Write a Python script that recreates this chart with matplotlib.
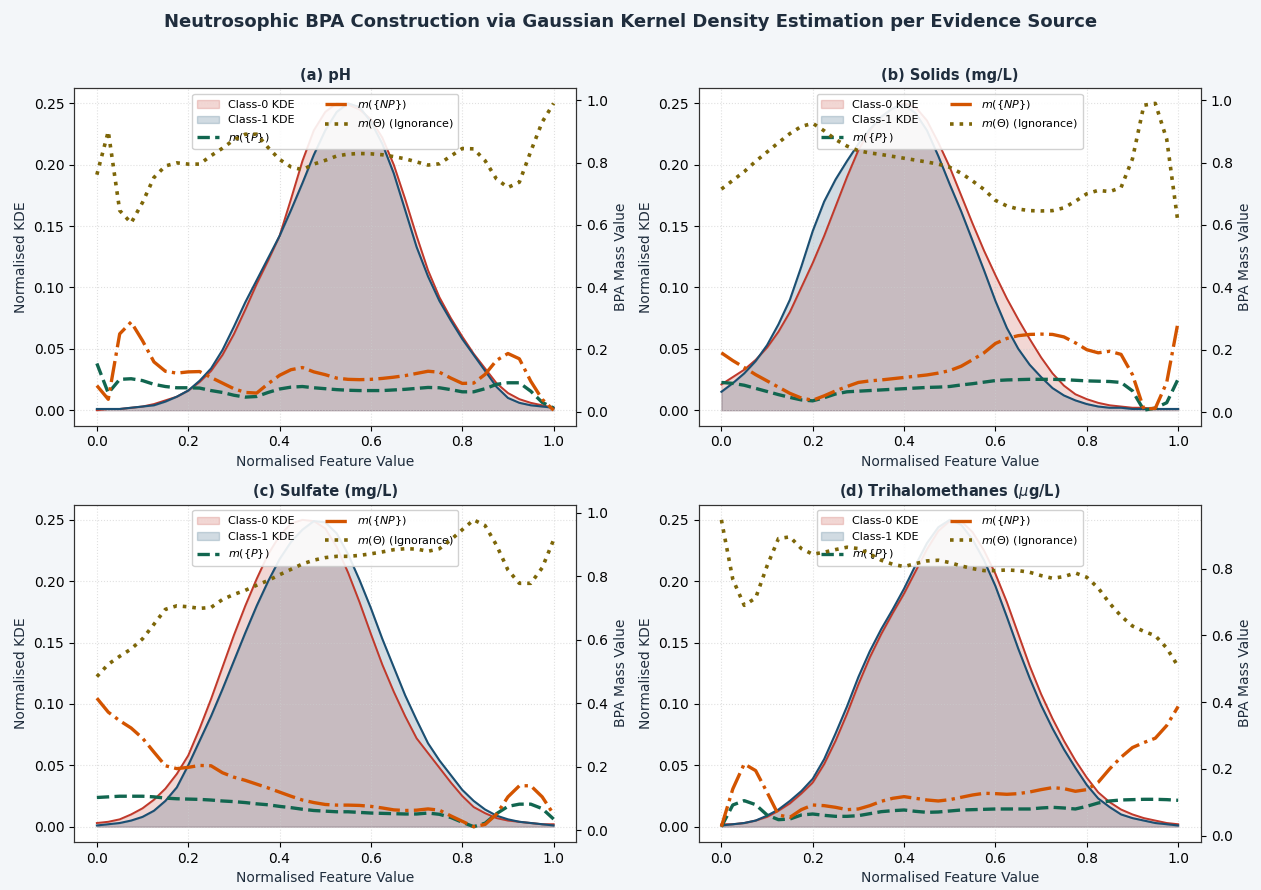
import numpy as np
import matplotlib
matplotlib.use("Agg")
import matplotlib.pyplot as plt

# normalised feature grid (41 samples, 0..1)
feature_x = np.linspace(0, 1, 41)

# ---- (a) pH ----
ph_kde0 = [0.000, 0.001, 0.001, 0.002, 0.003, 0.005, 0.008, 0.011, 0.016, 0.023,
           0.032, 0.045, 0.062, 0.082, 0.103, 0.122, 0.142, 0.172, 0.203, 0.228,
           0.243, 0.250, 0.249, 0.245, 0.237, 0.222, 0.200, 0.172, 0.142, 0.114,
           0.092, 0.075, 0.060, 0.046, 0.034, 0.022, 0.014, 0.009, 0.006, 0.004, 0.002]
ph_kde1 = [0.001, 0.001, 0.001, 0.002, 0.003, 0.004, 0.007, 0.011, 0.016, 0.024,
           0.034, 0.049, 0.068, 0.088, 0.106, 0.124, 0.142, 0.163, 0.185, 0.208,
           0.228, 0.243, 0.250, 0.247, 0.235, 0.217, 0.193, 0.163, 0.133, 0.109,
           0.089, 0.073, 0.058, 0.045, 0.032, 0.019, 0.010, 0.006, 0.004, 0.003, 0.002]
ph_mp = [0.155, 0.060, 0.104, 0.106, 0.100, 0.088, 0.081, 0.077, 0.077, 0.076,
         0.068, 0.062, 0.053, 0.047, 0.049, 0.062, 0.073, 0.079, 0.081, 0.077,
         0.074, 0.071, 0.069, 0.068, 0.068, 0.068, 0.070, 0.072, 0.075, 0.078,
         0.077, 0.071, 0.064, 0.064, 0.074, 0.088, 0.093, 0.093, 0.066, 0.030, 0.012]
ph_mnp = [0.084, 0.040, 0.250, 0.288, 0.228, 0.160, 0.130, 0.124, 0.128, 0.129,
          0.110, 0.092, 0.074, 0.062, 0.060, 0.090, 0.117, 0.135, 0.142, 0.128,
          0.119, 0.108, 0.104, 0.103, 0.104, 0.107, 0.111, 0.116, 0.123, 0.130,
          0.127, 0.108, 0.091, 0.092, 0.120, 0.165, 0.187, 0.170, 0.098, 0.040, 0.005]
ph_theta = [0.761, 0.900, 0.646, 0.606, 0.672, 0.752, 0.789, 0.799, 0.795, 0.795,
            0.822, 0.846, 0.873, 0.891, 0.891, 0.848, 0.810, 0.786, 0.777, 0.795,
            0.807, 0.821, 0.827, 0.829, 0.828, 0.825, 0.819, 0.812, 0.802, 0.792,
            0.796, 0.821, 0.845, 0.844, 0.806, 0.747, 0.720, 0.737, 0.836, 0.930, 0.990]

# ---- (b) Solids ----
sol_kde0 = [0.021, 0.027, 0.033, 0.041, 0.051, 0.064, 0.080, 0.100, 0.120, 0.142,
            0.166, 0.190, 0.212, 0.228, 0.239, 0.246, 0.250, 0.247, 0.236, 0.218,
            0.198, 0.175, 0.152, 0.130, 0.110, 0.091, 0.074, 0.058, 0.043, 0.030,
            0.020, 0.013, 0.009, 0.006, 0.004, 0.003, 0.002, 0.002, 0.001, 0.001, 0.001]
sol_kde1 = [0.015, 0.022, 0.030, 0.040, 0.053, 0.070, 0.090, 0.117, 0.146, 0.170,
            0.188, 0.203, 0.217, 0.229, 0.239, 0.246, 0.249, 0.242, 0.228, 0.207,
            0.184, 0.162, 0.138, 0.114, 0.089, 0.067, 0.050, 0.037, 0.027, 0.018,
            0.012, 0.008, 0.005, 0.003, 0.002, 0.002, 0.001, 0.001, 0.001, 0.001, 0.001]
sol_mp = [0.095, 0.092, 0.086, 0.076, 0.066, 0.056, 0.047, 0.039, 0.036, 0.046,
          0.058, 0.065, 0.067, 0.069, 0.071, 0.073, 0.075, 0.077, 0.079, 0.080,
          0.082, 0.087, 0.091, 0.096, 0.101, 0.103, 0.104, 0.105, 0.105, 0.105,
          0.104, 0.102, 0.100, 0.099, 0.098, 0.095, 0.068, 0.006, 0.013, 0.030, 0.106]
sol_mnp = [0.190, 0.165, 0.143, 0.120, 0.100, 0.080, 0.060, 0.045, 0.038, 0.052,
           0.068, 0.082, 0.095, 0.100, 0.103, 0.107, 0.111, 0.115, 0.119, 0.125,
           0.133, 0.147, 0.168, 0.190, 0.220, 0.236, 0.245, 0.249, 0.250, 0.249,
           0.241, 0.222, 0.200, 0.190, 0.195, 0.185, 0.120, 0.010, 0.012, 0.095, 0.290]
sol_theta = [0.715, 0.743, 0.771, 0.804, 0.834, 0.864, 0.893, 0.916, 0.926, 0.902,
             0.874, 0.853, 0.838, 0.831, 0.826, 0.820, 0.814, 0.808, 0.802, 0.795,
             0.785, 0.766, 0.741, 0.714, 0.679, 0.661, 0.651, 0.646, 0.645, 0.646,
             0.655, 0.676, 0.700, 0.711, 0.707, 0.720, 0.812, 0.984, 0.990, 0.875, 0.604]

# ---- (c) Sulfate ----
sul_kde0 = [0.003, 0.004, 0.006, 0.010, 0.015, 0.022, 0.031, 0.043, 0.058, 0.080,
            0.104, 0.130, 0.156, 0.180, 0.202, 0.222, 0.237, 0.247, 0.250, 0.249,
            0.243, 0.228, 0.207, 0.183, 0.157, 0.132, 0.110, 0.090, 0.072, 0.060,
            0.048, 0.036, 0.025, 0.016, 0.011, 0.007, 0.005, 0.004, 0.003, 0.002, 0.002]
sul_kde1 = [0.001, 0.002, 0.003, 0.005, 0.008, 0.013, 0.021, 0.032, 0.050, 0.070,
            0.090, 0.112, 0.135, 0.158, 0.180, 0.200, 0.218, 0.232, 0.242, 0.249,
            0.248, 0.239, 0.222, 0.201, 0.178, 0.153, 0.130, 0.107, 0.087, 0.068,
            0.054, 0.042, 0.030, 0.021, 0.014, 0.009, 0.006, 0.004, 0.003, 0.002, 0.001]
sul_mp = [0.103, 0.105, 0.107, 0.107, 0.107, 0.105, 0.101, 0.099, 0.098, 0.097,
          0.095, 0.092, 0.090, 0.087, 0.083, 0.080, 0.075, 0.071, 0.066, 0.062,
          0.060, 0.058, 0.058, 0.056, 0.054, 0.053, 0.052, 0.051, 0.051, 0.054,
          0.050, 0.040, 0.025, 0.011, 0.022, 0.052, 0.075, 0.082, 0.082, 0.068, 0.035]
sul_mnp = [0.416, 0.372, 0.345, 0.322, 0.290, 0.246, 0.203, 0.194, 0.198, 0.204,
           0.203, 0.181, 0.167, 0.157, 0.145, 0.133, 0.120, 0.107, 0.095, 0.087,
           0.081, 0.079, 0.079, 0.078, 0.075, 0.070, 0.064, 0.062, 0.063, 0.067,
           0.063, 0.045, 0.028, 0.011, 0.018, 0.050, 0.105, 0.140, 0.140, 0.105, 0.050]
sul_theta = [0.484, 0.523, 0.548, 0.571, 0.603, 0.649, 0.696, 0.707, 0.704, 0.699,
             0.702, 0.727, 0.743, 0.756, 0.772, 0.787, 0.805, 0.822, 0.839, 0.851,
             0.859, 0.863, 0.863, 0.866, 0.871, 0.877, 0.884, 0.887, 0.886, 0.879,
             0.887, 0.915, 0.947, 0.978, 0.960, 0.898, 0.820, 0.778, 0.778, 0.827, 0.915]

# ---- (d) Trihalomethanes ----
thm_kde0 = [0.002, 0.002, 0.003, 0.005, 0.008, 0.013, 0.019, 0.027, 0.036, 0.051,
            0.070, 0.092, 0.116, 0.138, 0.157, 0.174, 0.190, 0.208, 0.226, 0.241,
            0.249, 0.249, 0.240, 0.225, 0.206, 0.183, 0.157, 0.131, 0.108, 0.088,
            0.070, 0.054, 0.040, 0.028, 0.020, 0.014, 0.010, 0.007, 0.005, 0.003, 0.002]
thm_kde1 = [0.001, 0.002, 0.003, 0.005, 0.009, 0.014, 0.021, 0.029, 0.039, 0.055,
            0.076, 0.098, 0.122, 0.143, 0.161, 0.177, 0.194, 0.213, 0.231, 0.244,
            0.250, 0.246, 0.234, 0.217, 0.196, 0.171, 0.145, 0.121, 0.099, 0.080,
            0.063, 0.048, 0.034, 0.023, 0.016, 0.010, 0.007, 0.005, 0.003, 0.002, 0.001]
thm_mp = [0.027, 0.092, 0.105, 0.093, 0.062, 0.048, 0.050, 0.062, 0.065, 0.061,
          0.058, 0.058, 0.060, 0.066, 0.072, 0.075, 0.077, 0.073, 0.070, 0.071,
          0.074, 0.077, 0.078, 0.079, 0.080, 0.080, 0.080, 0.080, 0.083, 0.085,
          0.083, 0.080, 0.088, 0.098, 0.104, 0.107, 0.108, 0.109, 0.109, 0.108, 0.106]
thm_mnp = [0.027, 0.140, 0.215, 0.195, 0.130, 0.062, 0.055, 0.078, 0.092, 0.090,
           0.085, 0.078, 0.080, 0.090, 0.103, 0.112, 0.117, 0.112, 0.107, 0.104,
           0.108, 0.115, 0.122, 0.127, 0.126, 0.124, 0.126, 0.131, 0.138, 0.144,
           0.141, 0.133, 0.138, 0.160, 0.200, 0.235, 0.264, 0.279, 0.292, 0.330, 0.387]
thm_theta = [0.946, 0.768, 0.690, 0.712, 0.808, 0.890, 0.895, 0.860, 0.843, 0.849,
             0.857, 0.864, 0.860, 0.844, 0.825, 0.813, 0.806, 0.815, 0.823, 0.825,
             0.818, 0.808, 0.800, 0.794, 0.794, 0.796, 0.794, 0.789, 0.779, 0.771,
             0.776, 0.787, 0.774, 0.742, 0.696, 0.658, 0.628, 0.612, 0.599, 0.562, 0.507]

titles = ["(a) pH", "(b) Solids (mg/L)", "(c) Sulfate (mg/L)",
          "(d) Trihalomethanes ($\\mu$g/L)"]
kde0_all = [ph_kde0, sol_kde0, sul_kde0, thm_kde0]
kde1_all = [ph_kde1, sol_kde1, sul_kde1, thm_kde1]
mp_all = [ph_mp, sol_mp, sul_mp, thm_mp]
mnp_all = [ph_mnp, sol_mnp, sul_mnp, thm_mnp]
theta_all = [ph_theta, sol_theta, sul_theta, thm_theta]

c0 = "#c0392b"
c1 = "#1b4f72"
c_p = "#11664f"
c_np = "#d35400"
c_th = "#7d6608"
txt = "#1f2d3d"

fig, axes = plt.subplots(2, 2, figsize=(12.61, 8.9), dpi=100)
fig.patch.set_facecolor("#f3f6f9")
fig.subplots_adjust(left=0.0587, right=0.9524, top=0.9011, bottom=0.0539,
                    wspace=0.243, hspace=0.234)

for i, ax in enumerate(axes.flat):
    ax.set_facecolor("white")
    f0 = ax.fill_between(feature_x, kde0_all[i], color=c0, alpha=0.2, label="Class-0 KDE")
    f1 = ax.fill_between(feature_x, kde1_all[i], color=c1, alpha=0.2, label="Class-1 KDE")
    ax.plot(feature_x, kde0_all[i], color=c0, lw=1.4)
    ax.plot(feature_x, kde1_all[i], color=c1, lw=1.5)
    ax.set_xlabel("Normalised Feature Value", fontsize=10, color=txt)
    ax.set_ylabel("Normalised KDE", fontsize=10, color=txt)
    ax.set_title(titles[i], fontsize=10.5, fontweight="bold", color=txt)
    ax.grid(True, linestyle=":", color="#cccccc", alpha=0.6)
    for s in ax.spines.values():
        s.set_color("#333333")

    ax2 = ax.twinx()
    l1, = ax2.plot(feature_x, mp_all[i], color=c_p, ls="--", lw=2.4, label="$m(\\{P\\})$")
    l2, = ax2.plot(feature_x, mnp_all[i], color=c_np, ls="-.", lw=2.4, label="$m(\\{NP\\})$")
    l3, = ax2.plot(feature_x, theta_all[i], color=c_th, ls=":", lw=2.6,
                   label="$m(\\Theta)$ (Ignorance)")
    ax2.set_ylabel("BPA Mass Value", fontsize=10, color=txt)
    for s in ax2.spines.values():
        s.set_color("#333333")

    ax.legend(handles=[f0, f1, l1, l2, l3], loc="upper center", ncol=2,
              fontsize=8, columnspacing=2.8, framealpha=0.9)

fig.suptitle("Neutrosophic BPA Construction via Gaussian Kernel Density Estimation per Evidence Source",
             fontsize=13, fontweight="bold", color=txt, y=0.985)

fig.savefig("out.png", dpi=100, facecolor=fig.get_facecolor())
